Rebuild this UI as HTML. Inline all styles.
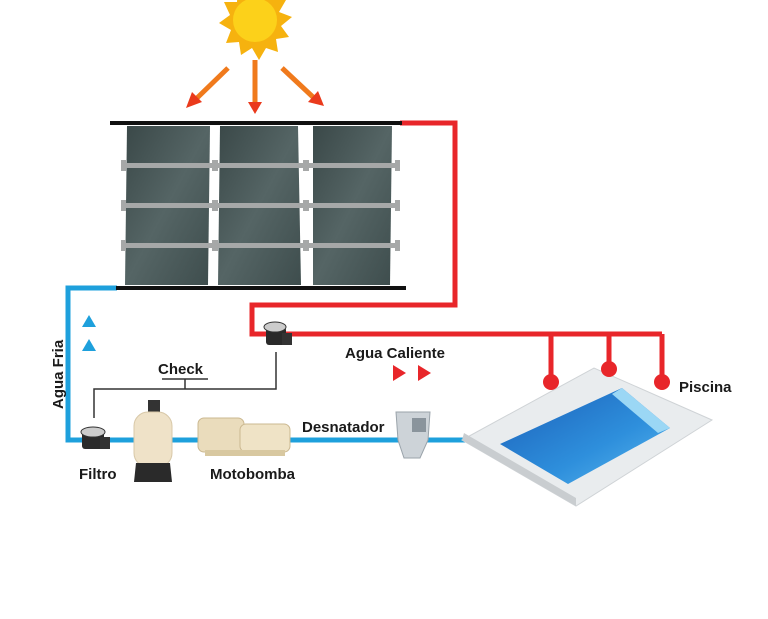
<!DOCTYPE html>
<html><head><meta charset="utf-8"><style>
html,body{margin:0;padding:0;background:#fff;}
svg{display:block}
text{font-family:"Liberation Sans",sans-serif;font-weight:bold;fill:#1a1a1a}
</style></head><body>
<svg width="768" height="619" viewBox="0 0 768 619" xmlns="http://www.w3.org/2000/svg">
<defs>
<linearGradient id="pn" x1="0" y1="0" x2="1" y2="1"><stop offset="0" stop-color="#3a4848"/><stop offset="0.5" stop-color="#556565"/><stop offset="1" stop-color="#3e4d4d"/></linearGradient>
<linearGradient id="wt" x1="0" y1="0" x2="1" y2="1"><stop offset="0" stop-color="#1b5fb8"/><stop offset="0.6" stop-color="#2e8fdc"/><stop offset="1" stop-color="#5cb8ee"/></linearGradient>
</defs>
<!-- sun -->
<g transform="translate(255,20)">
<polygon fill="#f6b20f" points="0,-38 6,-26 18,-33 17,-20 31,-20 24,-8 37,-3 26,6 34,17 21,19 23,32 11,28 4,40 -3,28 -14,35 -16,22 -29,23 -24,10 -36,3 -25,-5 -31,-18 -18,-18 -17,-32 -6,-26"/>
<circle r="22" fill="#fcd11a"/>
</g>
<g stroke="#f07a1c" stroke-width="5" fill="none">
<line x1="228" y1="68" x2="196" y2="99"/><line x1="255" y1="60" x2="255" y2="104"/><line x1="282" y1="68" x2="314" y2="98"/>
</g>
<g fill="#ea3a1c">
<polygon points="186,108 192,92 202,102"/><polygon points="255,114 248,102 262,102"/><polygon points="324,106 308,102 318,91"/>
</g>
<!-- pipes -->
<polyline points="400,123 455,123 455,305 252,305 252,334 662,334" fill="none" stroke="#e8262a" stroke-width="5"/>
<g stroke="#e8262a" stroke-width="5"><line x1="551" y1="334" x2="551" y2="380"/><line x1="609" y1="334" x2="609" y2="368"/><line x1="662" y1="334" x2="662" y2="380"/></g>
<polyline points="117,288 68,288 68,440 470,440" fill="none" stroke="#1ea0dc" stroke-width="5"/>
<g fill="#1ea0dc"><polygon points="89,315 82,327 96,327"/><polygon points="89,339 82,351 96,351"/></g>
<g fill="#e8262a"><polygon points="393,365 393,381 406,373"/><polygon points="418,365 418,381 431,373"/></g>
<!-- panels -->
<path d="M127,126 L210,126 L208,285 L125,285Z" fill="url(#pn)"/>
<path d="M220,126 L298,126 L301,285 L218,285Z" fill="url(#pn)"/>
<path d="M313,126 L392,126 L390,285 L313,285Z" fill="url(#pn)"/>
<g fill="#a6a8a8"><rect x="122" y="163" width="277" height="5"/><rect x="122" y="203" width="277" height="5"/><rect x="122" y="243" width="277" height="5"/>
<rect x="121" y="160" width="5" height="11"/><rect x="121" y="200" width="5" height="11"/><rect x="121" y="240" width="5" height="11"/>
<rect x="395" y="160" width="5" height="11"/><rect x="395" y="200" width="5" height="11"/><rect x="395" y="240" width="5" height="11"/>
<rect x="212" y="160" width="6" height="11"/><rect x="212" y="200" width="6" height="11"/><rect x="212" y="240" width="6" height="11"/>
<rect x="303" y="160" width="6" height="11"/><rect x="303" y="200" width="6" height="11"/><rect x="303" y="240" width="6" height="11"/></g>
<rect x="110" y="121" width="292" height="4" fill="#111"/>
<rect x="116" y="286" width="290" height="4" fill="#111"/>
<!-- check lines -->
<polyline points="276,352 276,389 94,389 94,418" fill="none" stroke="#333" stroke-width="1.5"/>
<line x1="185" y1="379" x2="185" y2="389" stroke="#333" stroke-width="1.5"/>
<line x1="162" y1="379" x2="208" y2="379" stroke="#333" stroke-width="1.5"/>
<text x="158" y="374" font-size="15">Check</text>
<!-- valves -->
<g><rect x="266" y="327" width="20" height="18" rx="3" fill="#2a2a2a"/><ellipse cx="275" cy="327" rx="11" ry="5" fill="#ccc" stroke="#333"/><rect x="282" y="333" width="10" height="12" fill="#333"/></g>
<g><rect x="82" y="431" width="22" height="18" rx="3" fill="#2a2a2a"/><ellipse cx="93" cy="432" rx="12" ry="5" fill="#ccc" stroke="#333"/><rect x="100" y="437" width="10" height="12" fill="#333"/></g>
<!-- filter -->
<rect x="148" y="400" width="12" height="14" fill="#333"/>
<rect x="134" y="412" width="38" height="55" rx="14" fill="#efe2c8" stroke="#d8c8a8"/>
<path d="M136,463 L170,463 L172,482 L134,482Z" fill="#2a2a2a"/>
<!-- pump -->
<rect x="198" y="418" width="46" height="34" rx="6" fill="#eadcbc" stroke="#cbb890"/>
<rect x="240" y="424" width="50" height="28" rx="6" fill="#efe3c6" stroke="#cbb890"/>
<rect x="205" y="450" width="80" height="6" fill="#d8c8a0"/>
<!-- skimmer -->
<path d="M396,412 L430,412 L428,440 L420,458 L404,458 L398,440Z" fill="#cdd3d8" stroke="#9aa3aa"/>
<rect x="412" y="418" width="14" height="14" fill="#8a949c"/>
<!-- pool -->
<polygon points="462,440 594,368 712,420 576,506" fill="#e9ecee" stroke="#cfd3d6"/>
<polygon points="462,440 576,506 576,498 464,433" fill="#c9cdd0"/>
<polygon points="500,444 622,388 670,428 568,484" fill="url(#wt)"/>
<polygon points="622,388 670,428 658,433 612,394" fill="#9bd7f5"/>
<g fill="#e8262a"><circle cx="551" cy="382" r="8"/><circle cx="609" cy="369" r="8"/><circle cx="662" cy="382" r="8"/></g>
<!-- labels -->
<text x="345" y="358" font-size="15">Agua Caliente</text>
<text x="679" y="392" font-size="15">Piscina</text>
<text x="302" y="432" font-size="15">Desnatador</text>
<text x="79" y="479" font-size="15">Filtro</text>
<text x="210" y="479" font-size="15">Motobomba</text>
<text transform="translate(63,409) rotate(-90)" font-size="15">Agua Fria</text>
</svg>
</body></html>
